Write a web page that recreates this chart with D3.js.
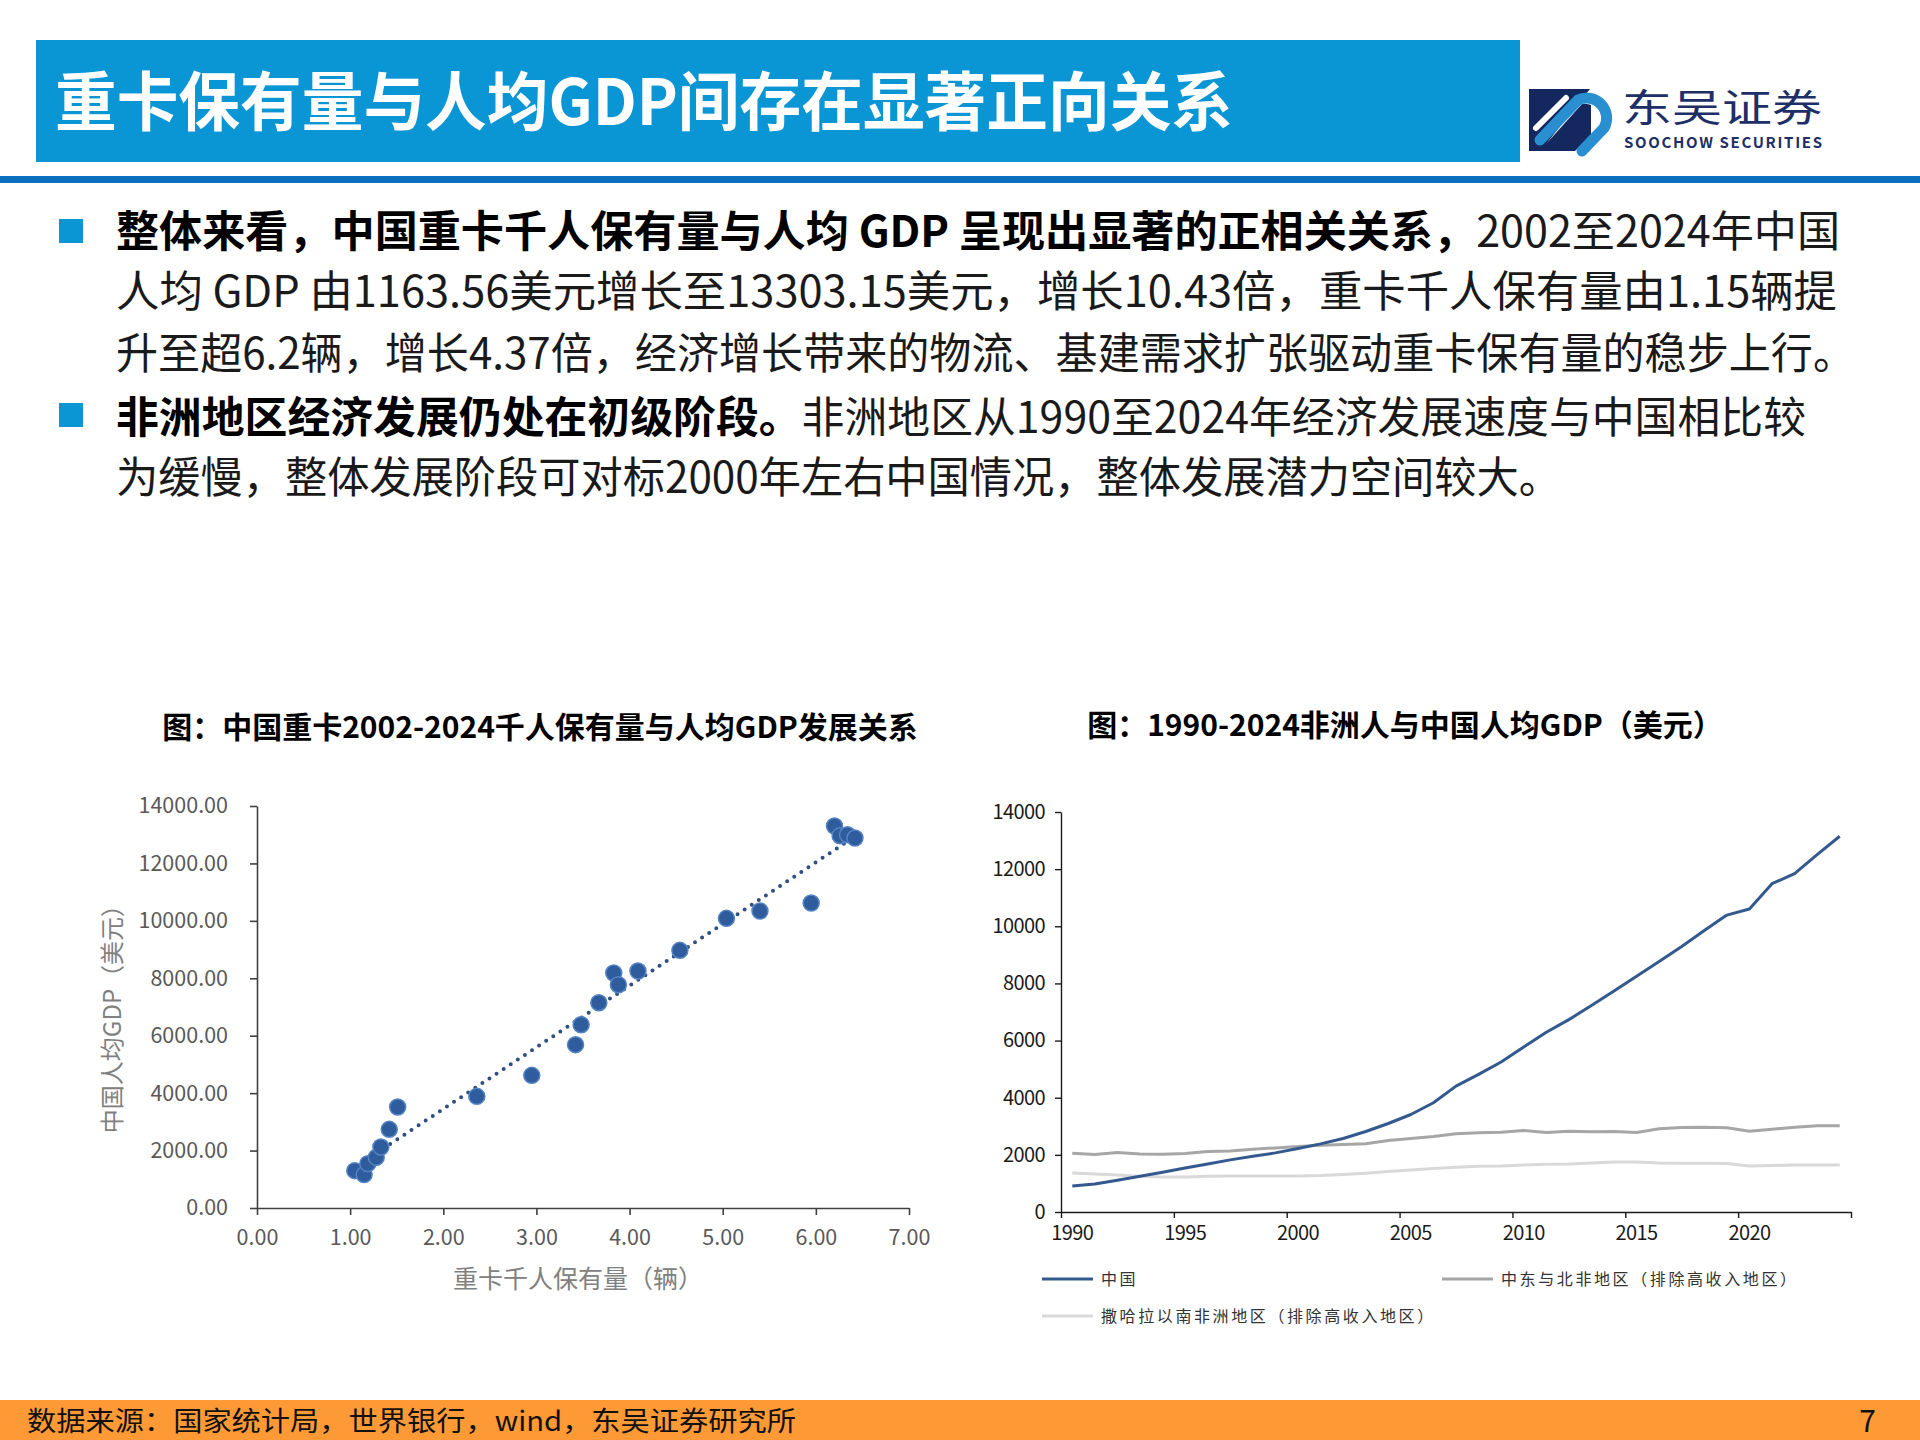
<!DOCTYPE html>
<html>
<head>
<meta charset="utf-8">
<script src="https://d3js.org/d3.v7.min.js"></script>
<style>
    body { margin: 0; background: #fff; }
    text { font-family: "Noto Sans CJK SC", "Noto Sans", sans-serif; }
</style>
</head>
<body>
<div id="page"></div>
<script>

// left chart: heavy trucks per 1000 people vs china gdp per capita (2002-2024)
var truckPerK = [1.05, 1.15, 1.19, 1.28, 1.33, 1.42, 1.51, 2.36, 2.95, 3.42, 3.48, 3.67,
                 3.83, 3.88, 4.09, 4.54, 5.04, 5.40, 5.95, 6.20, 6.26, 6.34, 6.42];
var gdpPerCap = [1300, 1163.56, 1544, 1764, 2124, 2739, 3517, 3888, 4620, 5688, 6384, 7150,
                 8183, 7777, 8253, 8973, 10087, 10342, 10621, 13303.15, 12966, 13001, 12885];

var scatterXTicks = [0, 1, 2, 3, 4, 5, 6, 7];
var scatterYTicks = [0, 2000, 4000, 6000, 8000, 10000, 12000, 14000];

// right chart: gdp per capita, usd
var years = [1990, 1991, 1992, 1993, 1994, 1995, 1996, 1997, 1998, 1999,
             2000, 2001, 2002, 2003, 2004, 2005, 2006, 2007, 2008, 2009,
             2010, 2011, 2012, 2013, 2014, 2015, 2016, 2017, 2018, 2019,
             2020, 2021, 2022, 2023, 2024];
var chinaGdp = [912, 982, 1111, 1251, 1391, 1543, 1683, 1824, 1952, 2069,
                2221, 2385, 2572, 2817, 3098, 3413, 3823, 4407, 4816, 5249,
                5775, 6289, 6733, 7224, 7739, 8253, 8768, 9294, 9855, 10392,
                10603, 11491, 11842, 12508, 13151];
var menaGdp = [2057, 2011, 2081, 2034, 2022, 2046, 2116, 2139, 2198, 2244,
               2291, 2338, 2361, 2385, 2502, 2572, 2642, 2735, 2771, 2794,
               2852, 2782, 2829, 2806, 2817, 2782, 2911, 2958, 2969, 2946,
               2829, 2899, 2969, 3016, 3016];
var ssaGdp = [1368, 1333, 1298, 1251, 1227, 1227, 1251, 1263, 1263, 1263,
              1263, 1274, 1309, 1356, 1414, 1473, 1520, 1566, 1602, 1613,
              1648, 1672, 1683, 1718, 1754, 1754, 1718, 1707, 1707, 1695,
              1613, 1625, 1648, 1648, 1648];

var seriesNames = ["中国", "中东与北非地区（排除高收入地区）", "撒哈拉以南非洲地区（排除高收入地区）"];
var lineYTicks = [0, 2000, 4000, 6000, 8000, 10000, 12000, 14000];
var lineXLabels = [1990, 1995, 2000, 2005, 2010, 2015, 2020];
var lineXBounds = [1990, 1995, 2000, 2005, 2010, 2015, 2020, 2025];

var bodyLines = [
    [["b", "整体来看，中国重卡千人保有量与人均 GDP 呈现出显著的正相关关系，"], ["n", "2002至2024年中国"]],
    [["n", "人均 GDP 由1163.56美元增长至13303.15美元，增长10.43倍，重卡千人保有量由1.15辆提"]],
    [["n", "升至超6.2辆，增长4.37倍，经济增长带来的物流、基建需求扩张驱动重卡保有量的稳步上行。"]],
    [["b", "非洲地区经济发展仍处在初级阶段。"], ["n", "非洲地区从1990至2024年经济发展速度与中国相比较"]],
    [["n", "为缓慢，整体发展阶段可对标2000年左右中国情况，整体发展潜力空间较大。"]]
];

(function () {

    "use strict";

    var svg = d3.select("#page")
        .append("svg")
            .attr("width", 1920)
            .attr("height", 1440);

    svg.append("rect")
        .attr("width", 1920)
        .attr("height", 1440)
        .attr("fill", "#ffffff");

    // ---- header
    svg.append("rect")
        .attr("x", 36).attr("y", 40)
        .attr("width", 1484).attr("height", 122)
        .attr("fill", "#0a96d5");

    svg.append("text")
        .attr("x", 55).attr("y", 102)
        .attr("dy", "0.36em")
        .attr("fill", "#ffffff")
        .attr("font-size", 64)
        .attr("font-weight", 700)
        .attr("textLength", 1178)
        .attr("lengthAdjust", "spacingAndGlyphs")
        .text("重卡保有量与人均GDP间存在显著正向关系");

    svg.append("rect")
        .attr("x", 0).attr("y", 176)
        .attr("width", 1920).attr("height", 7)
        .attr("fill", "#0a70bf");

    // logo
    var logo = svg.append("g");
    logo.append("rect")
        .attr("x", 1529).attr("y", 89)
        .attr("width", 62).attr("height", 62)
        .attr("fill", "#14275e");
    logo.append("path")
        .attr("d", "M1546,144 L1582,104 A16,16 0 0 1 1598,128 L1574,152 L1606,152 L1606,89 L1590,89 Z")
        .attr("fill", "#ffffff");
    logo.append("path")
        .attr("d", "M1540,140 L1578,100 A20,20 0 0 1 1604,128 L1582,151")
        .attr("fill", "none")
        .attr("stroke", "#2a8fd0")
        .attr("stroke-width", 11)
        .attr("stroke-linecap", "round");
    logo.append("path")
        .attr("d", "M1536,128 L1566,98")
        .attr("stroke", "#ffffff")
        .attr("stroke-width", 6)
        .attr("stroke-linecap", "round");
    logo.append("text")
        .attr("x", 1622).attr("y", 107)
        .attr("dy", "0.36em")
        .attr("fill", "#1d2f66")
        .attr("font-size", 38)
        .attr("textLength", 200)
        .attr("lengthAdjust", "spacingAndGlyphs")
        .text("东吴证券");
    logo.append("text")
        .attr("x", 1624).attr("y", 143)
        .attr("dy", "0.36em")
        .attr("fill", "#1d2f66")
        .attr("font-size", 15)
        .attr("font-weight", 700)
        .attr("font-family", "'Open Sans', sans-serif")
        .attr("textLength", 198)
        .text("SOOCHOW SECURITIES");

    // ---- body text
    var lineY = [232, 292, 354, 418, 478];
    var lineEnd = [1840, 1837, 1855, 1806, 1561];

    [219, 403].forEach(function (by) {
        svg.append("rect")
            .attr("x", 59).attr("y", by)
            .attr("width", 24).attr("height", 24)
            .attr("fill", "#0a96d5");
    });

    bodyLines.forEach(function (parts, i) {
        var t = svg.append("text")
            .attr("x", 116).attr("y", lineY[i])
            .attr("dy", "0.36em")
            .attr("font-size", 43)
            .attr("fill", "#111111")
            .attr("textLength", lineEnd[i] - 116)
            .attr("lengthAdjust", "spacingAndGlyphs");
        parts.forEach(function (p) {
            t.append("tspan")
                .attr("font-weight", p[0] === "b" ? 700 : 400)
                .attr("fill", p[0] === "b" ? "#000000" : "#1a1a1a")
                .text(p[1]);
        });
    });

    // ---- left chart: scatter
    var sx = d3.scaleLinear().domain([0, 7]).range([257, 909]);
    var sy = d3.scaleLinear().domain([0, 14000]).range([1208, 806]);

    svg.append("text")
        .attr("x", 540).attr("y", 727)
        .attr("dy", "0.36em")
        .attr("text-anchor", "middle")
        .attr("font-size", 30)
        .attr("font-weight", 700)
        .attr("fill", "#000")
        .text("图：中国重卡2002-2024千人保有量与人均GDP发展关系");

    var gx = svg.append("g")
        .attr("transform", "translate(0," + sy(0) + ")")
        .call(d3.axisBottom(sx)
            .tickValues(scatterXTicks)
            .tickSize(7)
            .tickSizeOuter(0)
            .tickPadding(15)
            .tickFormat(d3.format(".2f")));

    var gy = svg.append("g")
        .attr("transform", "translate(" + sx(0) + ",0)")
        .call(d3.axisLeft(sy)
            .tickValues(scatterYTicks)
            .tickSize(7)
            .tickSizeOuter(0)
            .tickPadding(22)
            .tickFormat(d3.format(".2f")));

    [gx, gy].forEach(function (g) {
        g.select(".domain").attr("stroke", "#404040").attr("stroke-width", 1.6);
        g.selectAll(".tick line").attr("stroke", "#404040").attr("stroke-width", 1.6);
        g.selectAll(".tick text")
            .attr("font-family", "'Open Sans', sans-serif")
            .attr("font-size", 21.5)
            .attr("fill", "#595959");
    });

    svg.append("text")
        .attr("x", 578).attr("y", 1279)
        .attr("dy", "0.36em")
        .attr("text-anchor", "middle")
        .attr("font-size", 25)
        .attr("fill", "#808080")
        .text("重卡千人保有量（辆）");

    svg.append("text")
        .attr("transform", "translate(112,1013) rotate(-90)")
        .attr("dy", "0.36em")
        .attr("text-anchor", "middle")
        .attr("font-size", 24)
        .attr("fill", "#808080")
        .text("中国人均GDP（美元）");

    // linear trend line (least squares)
    var mx = d3.mean(truckPerK),
        my = d3.mean(gdpPerCap);
    var slope = d3.sum(truckPerK, function (d, i) { return (d - mx) * (gdpPerCap[i] - my); }) /
                d3.sum(truckPerK, function (d) { return (d - mx) * (d - mx); });
    var icept = my - slope * mx;
    var ext = d3.extent(truckPerK);

    svg.append("line")
        .attr("x1", sx(ext[0])).attr("y1", sy(icept + slope * ext[0]))
        .attr("x2", sx(ext[1])).attr("y2", sy(icept + slope * ext[1]))
        .attr("stroke", "#2f4f80")
        .attr("stroke-width", 4)
        .attr("stroke-linecap", "round")
        .attr("stroke-dasharray", "0 8.5");

    svg.append("g")
        .selectAll("circle")
        .data(truckPerK)
        .join("circle")
            .attr("cx", function (d) { return sx(d); })
            .attr("cy", function (d, i) { return sy(gdpPerCap[i]); })
            .attr("r", 8)
            .attr("fill", "#2e5c9c")
            .attr("stroke", "#5584c4")
            .attr("stroke-width", 1.5);

    // ---- right chart: lines
    var lx = d3.scaleLinear().domain([1990, 2025]).range([1061, 1851]);
    var ly = d3.scaleLinear().domain([0, 14000]).range([1212, 812]);

    svg.append("text")
        .attr("x", 1405).attr("y", 725)
        .attr("dy", "0.36em")
        .attr("text-anchor", "middle")
        .attr("font-size", 30)
        .attr("font-weight", 700)
        .attr("fill", "#000")
        .text("图：1990-2024非洲人与中国人均GDP（美元）");

    var lgx = svg.append("g")
        .attr("transform", "translate(0," + ly(0) + ")")
        .call(d3.axisBottom(lx)
            .tickValues(lineXBounds)
            .tickSize(6)
            .tickSizeOuter(0)
            .tickFormat(""));

    var lgy = svg.append("g")
        .attr("transform", "translate(" + lx(1990) + ",0)")
        .call(d3.axisLeft(ly)
            .tickValues(lineYTicks)
            .tickSize(6)
            .tickSizeOuter(0)
            .tickPadding(10)
            .tickFormat(d3.format("d")));

    [lgx, lgy].forEach(function (g) {
        g.select(".domain").attr("stroke", "#1a1a1a").attr("stroke-width", 1.4);
        g.selectAll(".tick line").attr("stroke", "#1a1a1a").attr("stroke-width", 1.4);
        g.selectAll(".tick text")
            .attr("font-family", "'Liberation Serif', serif")
            .attr("font-size", 20)
            .attr("letter-spacing", -0.6)
            .attr("fill", "#1a1a1a");
    });

    svg.append("g")
        .selectAll("text")
        .data(lineXLabels)
        .join("text")
            .attr("x", function (d) { return lx(d + 0.5); })
            .attr("y", 1233)
            .attr("dy", "0.36em")
            .attr("text-anchor", "middle")
            .attr("font-family", "'Liberation Serif', serif")
            .attr("font-size", 20)
            .attr("letter-spacing", -0.6)
            .attr("fill", "#1a1a1a")
            .text(function (d) { return d; });

    var lineGen = d3.line()
        .x(function (d) { return lx(d[0] + 0.5); })
        .y(function (d) { return ly(d[1]); });

    var seriesColors = ["#34598f", "#a6a6a6", "#d9d9d9"];
    var seriesData = [ssaGdp, menaGdp, chinaGdp];
    var seriesColorOrder = [seriesColors[2], seriesColors[1], seriesColors[0]];

    seriesData.forEach(function (vals, k) {
        svg.append("path")
            .datum(years.map(function (yr, i) { return [yr, vals[i]]; }))
            .attr("d", lineGen)
            .attr("fill", "none")
            .attr("stroke", seriesColorOrder[k])
            .attr("stroke-width", 3)
            .attr("stroke-linejoin", "round");
    });

    // legend
    var legendPos = [[1042, 1279], [1442, 1279], [1042, 1316]];
    seriesNames.forEach(function (name, i) {
        var p = legendPos[i];
        svg.append("line")
            .attr("x1", p[0]).attr("x2", p[0] + 51)
            .attr("y1", p[1]).attr("y2", p[1])
            .attr("stroke", seriesColors[i])
            .attr("stroke-width", 3);
        svg.append("text")
            .attr("x", p[0] + 59).attr("y", p[1])
            .attr("dy", "0.36em")
            .attr("font-size", 16)
            .attr("letter-spacing", 2.6)
            .attr("fill", "#333333")
            .text(name);
    });

    // ---- footer
    svg.append("rect")
        .attr("x", 0).attr("y", 1400)
        .attr("width", 1920).attr("height", 40)
        .attr("fill", "#fd9a35");

    svg.append("text")
        .attr("x", 27).attr("y", 1421)
        .attr("dy", "0.36em")
        .attr("font-size", 27)
        .attr("fill", "#111111")
        .attr("textLength", 769)
        .attr("lengthAdjust", "spacingAndGlyphs")
        .text("数据来源：国家统计局，世界银行，wind，东吴证券研究所");

    svg.append("text")
        .attr("x", 1876).attr("y", 1421)
        .attr("dy", "0.36em")
        .attr("text-anchor", "end")
        .attr("font-size", 30)
        .attr("fill", "#111111")
        .text("7");

}());
</script>
</body>
</html>
